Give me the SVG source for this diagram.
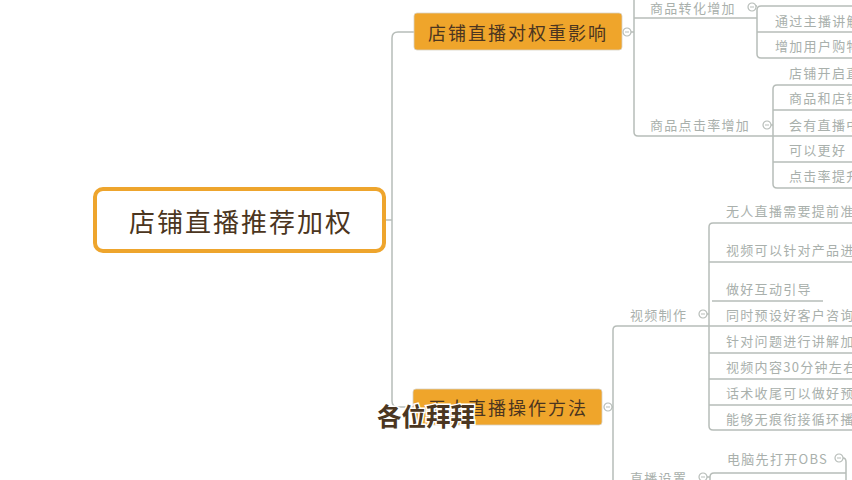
<svg xmlns="http://www.w3.org/2000/svg" width="852" height="480" viewBox="0 0 852 480">
<defs>
<style>
.bg{fill:#ffffff}
.ln{fill:none;stroke:#b7bdb9;stroke-width:1.5}
.tg{font-family:"Noto Sans CJK SC","Liberation Sans",sans-serif;font-size:13px;fill:#a9b0ac;letter-spacing:1.3px;dominant-baseline:central}
.tb{font-family:"Noto Sans CJK SC","Liberation Sans",sans-serif;font-size:18px;fill:#4b3520;letter-spacing:2px;dominant-baseline:central;text-anchor:middle}
.onode{fill:#efa52b;stroke:#d8d2c4;stroke-width:0.8}
.tog{fill:#ffffff;stroke:#b7bdb9;stroke-width:1.2}
.togm{stroke:#b7bdb9;stroke-width:1}
</style>
<g id="toggle">
<circle class="tog" cx="0" cy="0" r="4"/>
<line class="togm" x1="-2" y1="0" x2="2" y2="0"/>
</g>
</defs>
<rect class="bg" x="0" y="0" width="852" height="480"/>

<g id="connectors">
<path class="ln" d="M384 220 H392"/>
<path class="ln" d="M414 32 H398 Q392 32 392 38 V401 Q392 407 398 407 H414"/>
<path class="ln" d="M631 32 H634"/>
<path class="ln" d="M634 0 V132 Q634 136 638 136 H773"/>
<path class="ln" d="M634 18 H757"/>
<path class="ln" d="M756 6 H757"/>
<path class="ln" d="M852 6 H761 Q757 6 757 10 V54 Q757 58 761 58 H852"/>
<path class="ln" d="M757 32 H852"/>
<path class="ln" d="M771 125 H773"/>
<path class="ln" d="M852 85 H777 Q773 85 773 89 V184 Q773 188 777 188 H852"/>
<path class="ln" d="M773 110 H852 M773 136 H852 M773 162 H852"/>
<path class="ln" d="M612 407 H613"/>
<path class="ln" d="M709 326 H617 Q613 326 613 330 V480"/>
<path class="ln" d="M707 314 H709"/>
<path class="ln" d="M852 223 H713 Q709 223 709 227 V426 Q709 430 713 430 H852"/>
<path class="ln" d="M709 262 H852 M712 301 H823 M709 326 H852 M709 353 H852 M709 379 H852 M709 405 H852"/>
<path class="ln" d="M707 477 H710"/>
<path class="ln" d="M710 480 V477 Q710 473 714 473 H846"/>
<path class="ln" d="M843 458 Q846 458 846 462 V480"/>
</g>

<g id="root">
<rect x="95" y="189" width="289" height="62" rx="8" fill="#ffffff" stroke="#eea52d" stroke-width="4"/>
<text x="241" y="220" class="tb" style="font-size:26px;letter-spacing:2px">店铺直播推荐加权</text>
</g>

<g id="node-weight">
<rect class="onode" x="414" y="13" width="208" height="37" rx="3"/>
<text class="tb" x="518" y="32">店铺直播对权重影响</text>
<use href="#toggle" x="627" y="32"/>
</g>

<g id="node-conv">
<text class="tg" x="650" y="7">商品转化增加</text>
<use href="#toggle" x="752" y="7"/>
</g>
<g id="node-conv-1"><text class="tg" x="775" y="20">通过主播讲解</text></g>
<g id="node-conv-2"><text class="tg" x="775" y="45">增加用户购物</text></g>

<g id="node-click">
<text class="tg" x="650" y="124">商品点击率增加</text>
<use href="#toggle" x="767" y="125"/>
</g>
<g id="node-click-1"><text class="tg" x="789" y="72">店铺开启直播</text></g>
<g id="node-click-2"><text class="tg" x="789" y="97">商品和店铺</text></g>
<g id="node-click-3"><text class="tg" x="789" y="124">会有直播中</text></g>
<g id="node-click-4"><text class="tg" x="789" y="149">可以更好</text></g>
<g id="node-click-5"><text class="tg" x="789" y="175">点击率提升</text></g>

<g id="node-method">
<rect class="onode" x="413" y="389" width="189" height="36" rx="3"/>
<text class="tb" x="508" y="407">无人直播操作方法</text>
<use href="#toggle" x="608" y="407"/>
</g>

<g id="node-video">
<text class="tg" x="630" y="314">视频制作</text>
<use href="#toggle" x="703" y="314"/>
</g>
<g id="node-video-1"><text class="tg" x="726" y="210">无人直播需要提前准</text></g>
<g id="node-video-2"><text class="tg" x="726" y="249">视频可以针对产品进</text></g>
<g id="node-video-3"><text class="tg" x="726" y="288">做好互动引导</text></g>
<g id="node-video-4"><text class="tg" x="726" y="314">同时预设好客户咨询</text></g>
<g id="node-video-5"><text class="tg" x="726" y="340">针对问题进行讲解加</text></g>
<g id="node-video-6"><text class="tg" x="726" y="366">视频内容30分钟左右</text></g>
<g id="node-video-7"><text class="tg" x="726" y="392">话术收尾可以做好预</text></g>
<g id="node-video-8"><text class="tg" x="726" y="418">能够无痕衔接循环播</text></g>

<g id="node-live">
<text class="tg" x="630" y="477">直播设置</text>
<use href="#toggle" x="703" y="477"/>
</g>
<g id="node-live-1">
<text class="tg" x="727" y="458">电脑先打开OBS</text>
<use href="#toggle" x="839" y="458"/>
</g>

<g id="subtitle">
<text x="377" y="415" style="font-family:'Noto Sans CJK SC',sans-serif;font-size:24.5px;font-weight:bold;fill:#4b3621;stroke:#ffffff;stroke-width:3;paint-order:stroke;dominant-baseline:central">各位拜拜</text>
</g>
</svg>
